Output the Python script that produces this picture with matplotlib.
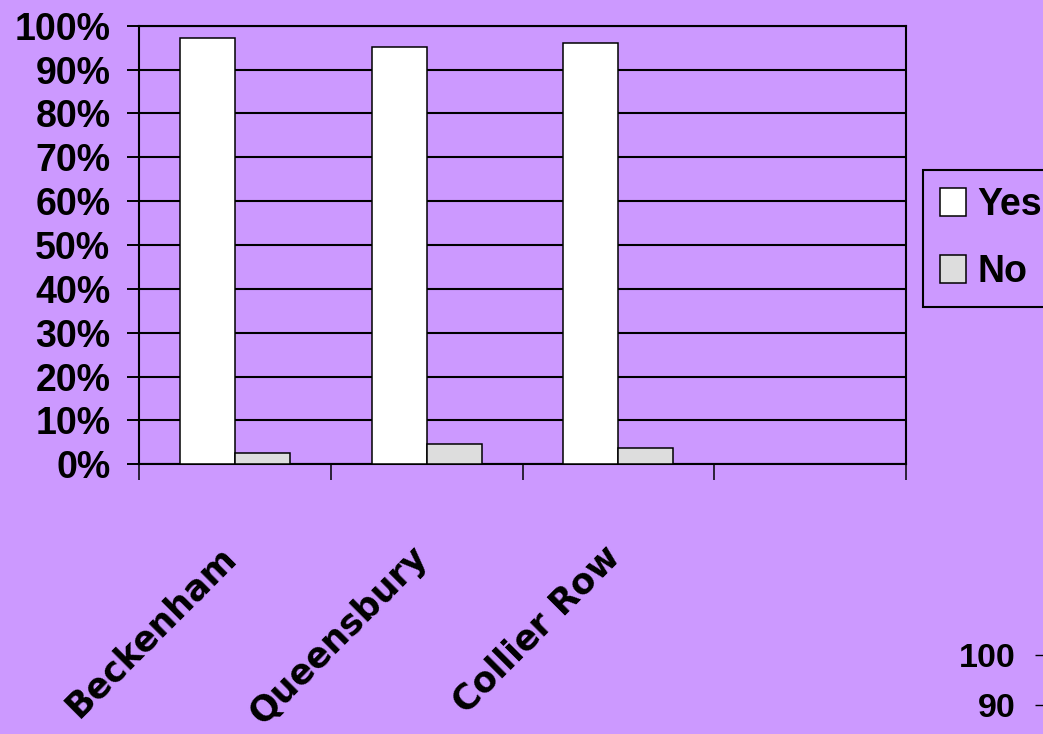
import matplotlib
matplotlib.use("Agg")
import matplotlib.pyplot as plt
import matplotlib.transforms as mtransforms
from matplotlib import font_manager
import numpy as np

# --- DATA ---
sites = ['Beckenham', 'Queensbury', 'Collier Row']
n_slots = 4  # the chart keeps one empty category slot on the right
yes_pct = [97.3, 95.2, 96.0]
no_pct = [2.5, 4.7, 3.8]
series_names = ['Yes', 'No']
y_ticks = [0, 10, 20, 30, 40, 50, 60, 70, 80, 90, 100]
corner_ticks = [100, 90]

# --- STYLE ---
BG = '#CC99FF'
YES_COL = '#FFFFFF'
NO_COL = '#DDDDDD'


def pick_font(names):
    for nm in names:
        try:
            font_manager.findfont(font_manager.FontProperties(family=nm),
                                  fallback_to_default=False)
            return nm
        except Exception:
            continue
    return 'DejaVu Sans'


narrow = pick_font(['Liberation Sans Narrow', 'Liberation Sans'])
tick_fs = 27 if narrow == 'Liberation Sans' else 32

W, H = 1043, 734
fig = plt.figure(figsize=(W / 100, H / 100), dpi=100)
fig.patch.set_facecolor(BG)

ax = fig.add_axes([139 / W, 1 - 464.3 / H, (906 - 139) / W, (464.3 - 25.7) / H])
ax.set_facecolor(BG)

x = np.arange(len(sites))
bw = 0.2865
b_yes = ax.bar(x - bw / 2, yes_pct, width=bw, color=YES_COL, edgecolor='black',
               linewidth=1.1, zorder=3, label=series_names[0])
b_no = ax.bar(x + bw / 2, no_pct, width=bw, color=NO_COL, edgecolor='black',
              linewidth=1.1, zorder=3, label=series_names[1])

ax.set_xlim(-0.5, n_slots - 0.5)
ax.set_ylim(0, 100)
ax.set_yticks(y_ticks)
ax.set_yticklabels([f"{v}%" for v in y_ticks], fontsize=tick_fs,
                   fontweight='bold', family=narrow)
ax.yaxis.grid(True, color='black', linewidth=1.5, zorder=1)
ax.set_axisbelow(True)
ax.tick_params(axis='y', direction='out', length=8.6, width=1.4, pad=12)

ax.set_xticks(np.arange(n_slots + 1) - 0.5)
ax.set_xticklabels([])
ax.tick_params(axis='x', direction='out', length=11.5, width=1.1)

for sp in ax.spines.values():
    sp.set_color('black')
    sp.set_linewidth(1.5)

# rotated category labels
trans = mtransforms.blended_transform_factory(ax.transData, ax.transAxes)
for i, name in enumerate(sites):
    ax.text(i + 0.04, -0.172, name, transform=trans, rotation=45, ha='right',
            va='top', fontsize=25, fontweight='bold', family='DejaVu Sans')

# legend (runs off the right edge as in the original)
leg = fig.legend(handles=[b_yes, b_no], labels=series_names,
                 loc='upper left', bbox_to_anchor=(923 / W, 1 - 170 / H),
                 prop={'family': narrow, 'weight': 'bold', 'size': tick_fs},
                 frameon=True, fancybox=False, framealpha=1, facecolor=BG,
                 edgecolor='black', handlelength=0.7, handleheight=0.77,
                 handletextpad=0.3, borderpad=0.45, labelspacing=0.84,
                 borderaxespad=0)
leg.get_frame().set_linewidth(1.5)

# corner of the next chart peeking in at bottom right
ax2 = fig.add_axes([1045 / W, (734 - 655 - 500) / H, 0.2, 500 / H])
ax2.patch.set_visible(False)
ax2.set_ylim(0, 100)
ax2.set_xticks([])
ax2.set_yticks(corner_ticks)
ax2.set_yticklabels([str(v) for v in corner_ticks], fontsize=24.5,
                    fontweight='bold', family=narrow)
ax2.tick_params(axis='y', direction='out', length=7.5, width=1.0, pad=14)
for sp in ax2.spines.values():
    sp.set_visible(False)

fig.savefig('out.png', dpi=100, facecolor=BG)
